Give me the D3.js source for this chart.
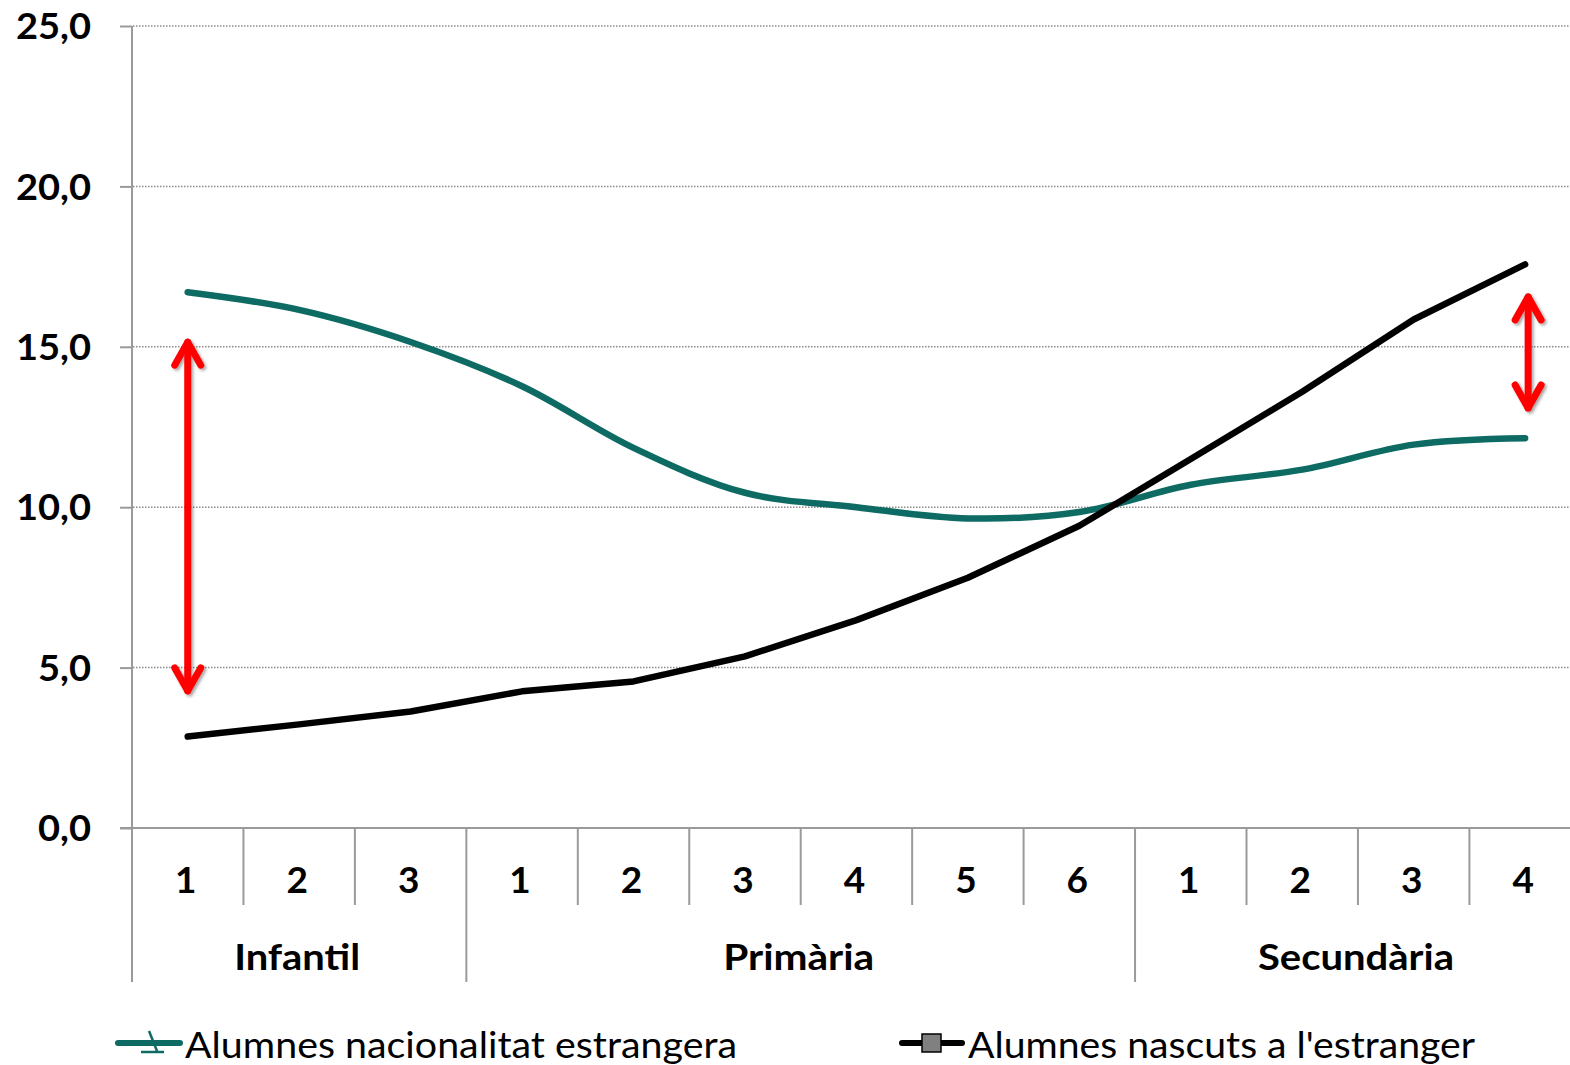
<!DOCTYPE html>
<html><head><meta charset="utf-8">
<script src="https://cdn.jsdelivr.net/npm/d3@7"></script>
<style>html,body{margin:0;padding:0;background:#fff;overflow:hidden}svg{display:block}</style>
</head><body>
<script>
const categories = ["1","2","3","1","2","3","4","5","6","1","2","3","4"];
const groups = [{name:"Infantil", start:0, end:3},{name:"Primària", start:3, end:9},{name:"Secundària", start:9, end:13}];
const nacionalitat = [16.7, 16.15, 15.15, 13.77, 11.85, 10.45, 10.0, 9.65, 9.85, 10.7, 11.17, 11.95, 12.15];
const nascuts = [2.85, 3.23, 3.63, 4.26, 4.57, 5.35, 6.48, 7.8, 9.42, 11.5, 13.6, 15.85, 17.57];
const yTicks = [0, 5, 10, 15, 20, 25];
const seriesNames = ["Alumnes nacionalitat estrangera", "Alumnes nascuts a l'estranger"];
const arrows = [{cat:0, from:15.27, to:4.15, dx:0}, {cat:12, from:16.68, to:12.97, dx:3}];

const W = 1570, H = 1065;
const svg = d3.select("body").append("svg").attr("width", W).attr("height", H);
const defs = svg.append("defs");
const f = defs.append("filter").attr("id","sh").attr("x","-50%").attr("y","-20%").attr("width","200%").attr("height","140%");
f.append("feDropShadow").attr("dx",2).attr("dy",2).attr("stdDeviation",1.6).attr("flood-color","#000").attr("flood-opacity",0.35);

const idx = d3.range(categories.length);
const x = d3.scaleBand().domain(idx).range([132, 132 + 13*111.45]).paddingInner(0).paddingOuter(0);
const y = d3.scaleLinear().domain([0, 25]).range([828, 26]);
const cx = i => x(i) + x.bandwidth()/2;
const axisColor = "#9a9a9a";
const font = "Lato, 'Open Sans', sans-serif";

// gridlines
svg.append("g").selectAll("line").data(yTicks.filter(t => t > 0)).join("line")
  .attr("x1", 133).attr("x2", W).attr("y1", d => y(d)).attr("y2", d => y(d))
  .attr("stroke", "#8c8c8c").attr("stroke-width", 1.5).attr("stroke-dasharray", "1.5,1.5");

// y axis
const yAxis = d3.axisLeft(y).tickValues(yTicks).tickSize(12).tickPadding(29)
  .tickFormat(d => d3.format(".1f")(d).replace(".", ","));
const gy = svg.append("g").attr("transform", "translate(132,0)").call(yAxis);
gy.select(".domain").remove();
gy.selectAll(".tick line").attr("stroke", axisColor).attr("stroke-width", 2);
gy.selectAll(".tick text").attr("font-family", font).attr("font-weight", "bold").attr("font-size", 36).attr("fill", "#000").attr("dy", "0.35em")
  .attr("textLength", d => d >= 10 ? 75 : 53).attr("lengthAdjust", "spacingAndGlyphs");
svg.append("line").attr("x1",132).attr("x2",132).attr("y1",y(25)).attr("y2",982).attr("stroke",axisColor).attr("stroke-width",2);

// x axis
svg.append("line").attr("x1",120).attr("x2",W).attr("y1",828).attr("y2",828).attr("stroke",axisColor).attr("stroke-width",2);
const groupEdges = new Set(groups.map(g => g.start));
svg.append("g").selectAll("line").data(d3.range(1, 13)).join("line")
  .attr("x1", d => x(d)).attr("x2", d => x(d)).attr("y1", 828)
  .attr("y2", d => groupEdges.has(d) ? 982 : 905)
  .attr("stroke", axisColor).attr("stroke-width", 2);
svg.append("g").selectAll("text").data(idx).join("text")
  .attr("x", d => cx(d) - 2).attr("y", 893).attr("text-anchor","middle")
  .attr("font-family", font).attr("font-weight","bold").attr("font-size",37).text(d => categories[d]);
const groupWidths = [126, 151, 196];
svg.append("g").selectAll("text").data(groups).join("text")
  .attr("x", g => (x(g.start) + x(g.end - 1) + x.bandwidth())/2 - 2).attr("y", 970).attr("text-anchor","middle")
  .attr("font-family", font).attr("font-weight","bold").attr("font-size",37)
  .attr("textLength", (g,i) => groupWidths[i]).attr("lengthAdjust","spacingAndGlyphs").text(g => g.name);

// lines
const smooth = d3.line().x((d,i) => cx(i)).y(d => y(d)).curve(d3.curveCatmullRom.alpha(0.5));
const straight = d3.line().x((d,i) => cx(i)).y(d => y(d));
svg.append("path").datum(nacionalitat).attr("d", smooth).attr("fill","none").attr("stroke","#0d6b64").attr("stroke-width",6.5).attr("stroke-linecap","round").attr("stroke-linejoin","round");
svg.append("path").datum(nascuts).attr("d", straight).attr("fill","none").attr("stroke","#000").attr("stroke-width",6.5).attr("stroke-linecap","round").attr("stroke-linejoin","round");

// arrows
arrows.forEach(a => {
  const ax = cx(a.cat) + a.dx, y1 = y(a.from), y2 = y(a.to);
  const g = svg.append("g").attr("filter","url(#sh)").attr("stroke","#ff0000").attr("stroke-width",7).attr("stroke-linecap","round").attr("stroke-linejoin","round").attr("fill","none");
  g.append("line").attr("x1",ax).attr("x2",ax).attr("y1",y1+4).attr("y2",y2-4);
  g.append("path").attr("d",`M${ax-13},${y1+27}L${ax},${y1+4}L${ax+13},${y1+27}`);
  g.append("path").attr("d",`M${ax-13},${y2-27}L${ax},${y2-4}L${ax+13},${y2-27}`);
});

// legend
const ly = 1043;
const l1 = svg.append("g");
l1.append("line").attr("x1",118).attr("x2",180).attr("y1",ly).attr("y2",ly).attr("stroke","#0d6b64").attr("stroke-width",6).attr("stroke-linecap","round");
l1.append("path").attr("d",`M149,${ly-12}L157,${ly+8}M141,${ly+9}L164,${ly+9}`).attr("stroke","#0d6b64").attr("stroke-width",2.5).attr("fill","none");
l1.append("text").attr("x",185).attr("y",1058).attr("font-family",font).attr("font-size",37).attr("textLength",552).attr("lengthAdjust","spacingAndGlyphs").text(seriesNames[0]);
const l2 = svg.append("g");
l2.append("line").attr("x1",902).attr("x2",962).attr("y1",ly).attr("y2",ly).attr("stroke","#000").attr("stroke-width",6).attr("stroke-linecap","round");
l2.append("rect").attr("x",922).attr("y",ly-9).attr("width",19).attr("height",18).attr("fill","#808080").attr("stroke","#000").attr("stroke-width",1.5);
l2.append("text").attr("x",968).attr("y",1058).attr("font-family",font).attr("font-size",37).attr("textLength",507).attr("lengthAdjust","spacingAndGlyphs").text(seriesNames[1]);
</script>
</body></html>
